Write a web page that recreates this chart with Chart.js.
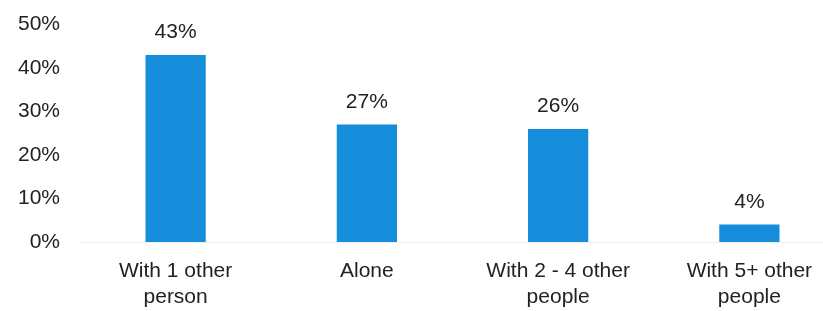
<!DOCTYPE html>
<html>
<head>
<meta charset="utf-8">
<script src="https://cdn.jsdelivr.net/npm/chart.js@4"></script>
<style>
  html, body { margin: 0; padding: 0; background: #fff; overflow: hidden; }
  #wrap { width: 845px; height: 311px; }
</style>
</head>
<body>
<div id="wrap"><canvas id="chart"></canvas></div>
<script>
const categories = [['With 1 other', 'person'], 'Alone', ['With 2 - 4 other', 'people'], ['With 5+ other', 'people']];
const shares = [43, 27, 26, 4];
const yTicks = [0, 10, 20, 30, 40, 50];

const FONT = '"Liberation Sans", Arial, sans-serif';

// value labels above each bar
const barLabels = {
  id: 'barLabels',
  afterDatasetsDraw(chart) {
    const ctx = chart.ctx;
    const meta = chart.getDatasetMeta(0);
    ctx.save();
    ctx.font = '21px ' + FONT;
    ctx.fillStyle = '#222';
    ctx.textAlign = 'center';
    ctx.textBaseline = 'bottom';
    meta.data.forEach((bar, i) => {
      ctx.fillText(shares[i] + '%', bar.x, bar.y - 12);
    });
    ctx.restore();
  }
};

new Chart(document.getElementById('chart'), {
  type: 'bar',
  data: {
    labels: categories,
    datasets: [{
      data: shares,
      backgroundColor: '#168ddb',
      barPercentage: 0.315,
      categoryPercentage: 1
    }]
  },
  options: {
    responsive: true,
    maintainAspectRatio: false,
    animation: false,
    layout: { padding: { top: -11, left: 0, right: 0, bottom: 0 } },
    plugins: { legend: { display: false }, tooltip: { enabled: false } },
    scales: {
      x: {
        afterFit: axis => { axis.height = 69; },
        grid: { display: false },
        border: { display: true, color: '#eeeeee' },
        ticks: {
          color: '#222',
          padding: 8,
          maxRotation: 0,
          font: { family: FONT, size: 21, lineHeight: 1.24 }
        }
      },
      y: {
        min: 0,
        max: 50,
        afterFit: axis => { axis.width = 80; },
        afterBuildTicks: axis => { axis.ticks = yTicks.map(v => ({ value: v })); },
        grid: { display: false },
        border: { display: false },
        ticks: {
          color: '#222',
          padding: 12,
          callback: v => v + '%',
          font: { family: FONT, size: 21 }
        }
      }
    }
  },
  plugins: [barLabels]
});
</script>
</body>
</html>
